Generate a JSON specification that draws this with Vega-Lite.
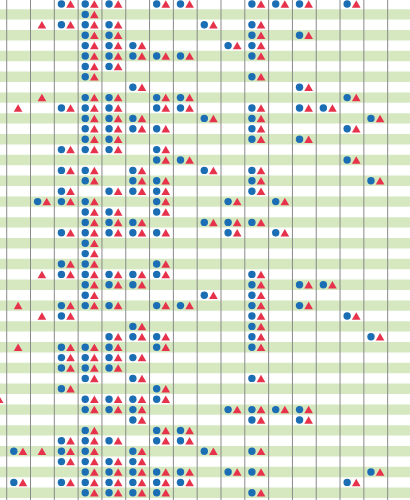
{
  "$schema": "https://vega.github.io/schema/vega-lite/v6.json",
  "width": 410,
  "height": 500,
  "padding": 0,
  "autosize": "none",
  "config": {"view": {"stroke": null}},
  "datasets": {
    "bands": [{"row":1},{"row":3},{"row":5},{"row":7},{"row":9},{"row":11},{"row":13},{"row":15},{"row":17},{"row":19},{"row":21},{"row":23},{"row":25},{"row":27},{"row":29},{"row":31},{"row":33},{"row":35},{"row":37},{"row":39},{"row":41},{"row":43},{"row":45},{"row":47}],
    "lines": [{"col":0.5},{"col":1.5},{"col":2.5},{"col":3.5},{"col":4.5},{"col":5.5},{"col":6.5},{"col":7.5},{"col":8.5},{"col":9.5},{"col":10.5},{"col":11.5},{"col":12.5},{"col":13.5},{"col":14.5},{"col":15.5},{"col":16.5}],
    "cells": [
      {"row":0,"col":3,"kind":"pair"},{"row":0,"col":4,"kind":"pair"},{"row":0,"col":5,"kind":"pair"},{"row":0,"col":7,"kind":"pair"},{"row":0,"col":8,"kind":"pair"},{"row":0,"col":11,"kind":"pair"},{"row":0,"col":12,"kind":"pair"},{"row":0,"col":13,"kind":"pair"},{"row":0,"col":15,"kind":"pair"},
      {"row":1,"col":4,"kind":"pair"},
      {"row":2,"col":2,"kind":"triangle"},{"row":2,"col":3,"kind":"pair"},{"row":2,"col":4,"kind":"pair"},{"row":2,"col":5,"kind":"pair"},{"row":2,"col":9,"kind":"pair"},{"row":2,"col":11,"kind":"pair"},
      {"row":3,"col":4,"kind":"pair"},{"row":3,"col":5,"kind":"pair"},{"row":3,"col":11,"kind":"pair"},{"row":3,"col":13,"kind":"pair"},
      {"row":4,"col":4,"kind":"pair"},{"row":4,"col":5,"kind":"pair"},{"row":4,"col":6,"kind":"pair"},{"row":4,"col":10,"kind":"pair"},{"row":4,"col":11,"kind":"pair"},
      {"row":5,"col":4,"kind":"pair"},{"row":5,"col":5,"kind":"pair"},{"row":5,"col":6,"kind":"pair"},{"row":5,"col":7,"kind":"pair"},{"row":5,"col":8,"kind":"pair"},{"row":5,"col":11,"kind":"pair"},
      {"row":6,"col":4,"kind":"pair"},{"row":6,"col":5,"kind":"pair"},
      {"row":7,"col":4,"kind":"pair"},{"row":7,"col":11,"kind":"pair"},
      {"row":8,"col":6,"kind":"pair"},{"row":8,"col":13,"kind":"pair"},
      {"row":9,"col":2,"kind":"triangle"},{"row":9,"col":4,"kind":"pair"},{"row":9,"col":5,"kind":"pair"},{"row":9,"col":7,"kind":"pair"},{"row":9,"col":8,"kind":"pair"},{"row":9,"col":15,"kind":"pair"},
      {"row":10,"col":1,"kind":"triangle"},{"row":10,"col":3,"kind":"pair"},{"row":10,"col":4,"kind":"pair"},{"row":10,"col":5,"kind":"pair"},{"row":10,"col":7,"kind":"pair"},{"row":10,"col":8,"kind":"pair"},{"row":10,"col":11,"kind":"pair"},{"row":10,"col":13,"kind":"pair"},{"row":10,"col":14,"kind":"pair"},
      {"row":11,"col":4,"kind":"pair"},{"row":11,"col":5,"kind":"pair"},{"row":11,"col":6,"kind":"pair"},{"row":11,"col":9,"kind":"pair"},{"row":11,"col":11,"kind":"pair"},{"row":11,"col":16,"kind":"pair"},
      {"row":12,"col":4,"kind":"pair"},{"row":12,"col":5,"kind":"pair"},{"row":12,"col":6,"kind":"pair"},{"row":12,"col":7,"kind":"pair"},{"row":12,"col":11,"kind":"pair"},{"row":12,"col":15,"kind":"pair"},
      {"row":13,"col":4,"kind":"pair"},{"row":13,"col":5,"kind":"pair"},{"row":13,"col":11,"kind":"pair"},{"row":13,"col":13,"kind":"pair"},
      {"row":14,"col":3,"kind":"pair"},{"row":14,"col":4,"kind":"pair"},{"row":14,"col":5,"kind":"pair"},{"row":14,"col":7,"kind":"pair"},
      {"row":15,"col":7,"kind":"pair"},{"row":15,"col":8,"kind":"pair"},{"row":15,"col":15,"kind":"pair"},
      {"row":16,"col":3,"kind":"pair"},{"row":16,"col":4,"kind":"pair"},{"row":16,"col":6,"kind":"pair"},{"row":16,"col":9,"kind":"pair"},{"row":16,"col":11,"kind":"pair"},
      {"row":17,"col":4,"kind":"pair"},{"row":17,"col":6,"kind":"pair"},{"row":17,"col":7,"kind":"pair"},{"row":17,"col":11,"kind":"pair"},{"row":17,"col":16,"kind":"pair"},
      {"row":18,"col":3,"kind":"pair"},{"row":18,"col":5,"kind":"pair"},{"row":18,"col":6,"kind":"pair"},{"row":18,"col":7,"kind":"pair"},{"row":18,"col":11,"kind":"pair"},
      {"row":19,"col":2,"kind":"pair"},{"row":19,"col":3,"kind":"pair"},{"row":19,"col":4,"kind":"pair"},{"row":19,"col":7,"kind":"pair"},{"row":19,"col":10,"kind":"pair"},{"row":19,"col":12,"kind":"pair"},
      {"row":20,"col":4,"kind":"pair"},{"row":20,"col":5,"kind":"pair"},{"row":20,"col":7,"kind":"pair"},
      {"row":21,"col":4,"kind":"pair"},{"row":21,"col":5,"kind":"pair"},{"row":21,"col":6,"kind":"pair"},{"row":21,"col":9,"kind":"pair"},{"row":21,"col":10,"kind":"pair"},{"row":21,"col":11,"kind":"pair"},
      {"row":22,"col":3,"kind":"pair"},{"row":22,"col":4,"kind":"pair"},{"row":22,"col":5,"kind":"pair"},{"row":22,"col":6,"kind":"pair"},{"row":22,"col":7,"kind":"pair"},{"row":22,"col":10,"kind":"pair"},{"row":22,"col":12,"kind":"pair"},
      {"row":23,"col":4,"kind":"pair"},
      {"row":24,"col":4,"kind":"pair"},
      {"row":25,"col":3,"kind":"pair"},{"row":25,"col":4,"kind":"pair"},{"row":25,"col":7,"kind":"pair"},
      {"row":26,"col":2,"kind":"triangle"},{"row":26,"col":3,"kind":"pair"},{"row":26,"col":4,"kind":"pair"},{"row":26,"col":5,"kind":"pair"},{"row":26,"col":6,"kind":"pair"},{"row":26,"col":7,"kind":"pair"},{"row":26,"col":11,"kind":"pair"},
      {"row":27,"col":4,"kind":"pair"},{"row":27,"col":5,"kind":"pair"},{"row":27,"col":6,"kind":"pair"},{"row":27,"col":11,"kind":"pair"},{"row":27,"col":13,"kind":"pair"},{"row":27,"col":14,"kind":"pair"},
      {"row":28,"col":4,"kind":"pair"},{"row":28,"col":9,"kind":"pair"},{"row":28,"col":11,"kind":"pair"},
      {"row":29,"col":1,"kind":"triangle"},{"row":29,"col":3,"kind":"pair"},{"row":29,"col":4,"kind":"pair"},{"row":29,"col":5,"kind":"pair"},{"row":29,"col":7,"kind":"pair"},{"row":29,"col":8,"kind":"pair"},{"row":29,"col":11,"kind":"pair"},{"row":29,"col":13,"kind":"pair"},
      {"row":30,"col":2,"kind":"triangle"},{"row":30,"col":3,"kind":"pair"},{"row":30,"col":11,"kind":"pair"},{"row":30,"col":15,"kind":"pair"},
      {"row":31,"col":6,"kind":"pair"},{"row":31,"col":11,"kind":"pair"},
      {"row":32,"col":5,"kind":"pair"},{"row":32,"col":6,"kind":"pair"},{"row":32,"col":7,"kind":"pair"},{"row":32,"col":11,"kind":"pair"},{"row":32,"col":16,"kind":"pair"},
      {"row":33,"col":1,"kind":"triangle"},{"row":33,"col":3,"kind":"pair"},{"row":33,"col":4,"kind":"pair"},{"row":33,"col":5,"kind":"pair"},{"row":33,"col":7,"kind":"pair"},{"row":33,"col":11,"kind":"pair"},
      {"row":34,"col":3,"kind":"pair"},{"row":34,"col":4,"kind":"pair"},{"row":34,"col":5,"kind":"pair"},{"row":34,"col":6,"kind":"pair"},
      {"row":35,"col":3,"kind":"pair"},{"row":35,"col":4,"kind":"pair"},{"row":35,"col":5,"kind":"pair"},
      {"row":36,"col":4,"kind":"pair"},{"row":36,"col":6,"kind":"pair"},{"row":36,"col":11,"kind":"pair"},
      {"row":37,"col":3,"kind":"pair"},{"row":37,"col":7,"kind":"pair"},
      {"row":38,"col":0,"kind":"pair"},{"row":38,"col":4,"kind":"pair"},{"row":38,"col":5,"kind":"pair"},{"row":38,"col":6,"kind":"pair"},{"row":38,"col":7,"kind":"pair"},
      {"row":39,"col":4,"kind":"pair"},{"row":39,"col":5,"kind":"pair"},{"row":39,"col":6,"kind":"pair"},{"row":39,"col":10,"kind":"pair"},{"row":39,"col":11,"kind":"pair"},{"row":39,"col":12,"kind":"pair"},{"row":39,"col":13,"kind":"pair"},
      {"row":40,"col":6,"kind":"pair"},{"row":40,"col":11,"kind":"pair"},{"row":40,"col":13,"kind":"pair"},
      {"row":41,"col":4,"kind":"pair"},{"row":41,"col":7,"kind":"pair"},{"row":41,"col":8,"kind":"pair"},
      {"row":42,"col":3,"kind":"pair"},{"row":42,"col":4,"kind":"pair"},{"row":42,"col":5,"kind":"pair"},{"row":42,"col":7,"kind":"pair"},{"row":42,"col":8,"kind":"pair"},
      {"row":43,"col":1,"kind":"pair"},{"row":43,"col":2,"kind":"triangle"},{"row":43,"col":3,"kind":"pair"},{"row":43,"col":4,"kind":"pair"},{"row":43,"col":6,"kind":"pair"},{"row":43,"col":9,"kind":"pair"},{"row":43,"col":11,"kind":"pair"},
      {"row":44,"col":3,"kind":"pair"},{"row":44,"col":4,"kind":"pair"},{"row":44,"col":5,"kind":"pair"},{"row":44,"col":6,"kind":"pair"},
      {"row":45,"col":4,"kind":"pair"},{"row":45,"col":5,"kind":"pair"},{"row":45,"col":6,"kind":"pair"},{"row":45,"col":7,"kind":"pair"},{"row":45,"col":8,"kind":"pair"},{"row":45,"col":10,"kind":"pair"},{"row":45,"col":11,"kind":"pair"},{"row":45,"col":16,"kind":"pair"},
      {"row":46,"col":1,"kind":"pair"},{"row":46,"col":3,"kind":"pair"},{"row":46,"col":4,"kind":"pair"},{"row":46,"col":5,"kind":"pair"},{"row":46,"col":6,"kind":"pair"},{"row":46,"col":7,"kind":"pair"},{"row":46,"col":8,"kind":"pair"},{"row":46,"col":15,"kind":"pair"},
      {"row":47,"col":4,"kind":"pair"},{"row":47,"col":5,"kind":"pair"},{"row":47,"col":6,"kind":"pair"},{"row":47,"col":7,"kind":"pair"},{"row":47,"col":11,"kind":"pair"}
    ]
  },
  "layer": [
    {
      "data": {"name": "bands"},
      "mark": {"type": "rule", "color": "#d5e8bf", "strokeWidth": 10.4},
      "encoding": {
        "y": {"field": "row", "type": "quantitative", "axis": null, "scale": {"domain": [-0.3846, 47.692], "reverse": true, "nice": false, "zero": false}}
      }
    },
    {
      "data": {"name": "lines"},
      "mark": {"type": "rule", "color": "#8a8a8a", "strokeWidth": 1},
      "encoding": {
        "x": {"field": "col", "type": "quantitative", "axis": null, "scale": {"domain": [0.2184, 17.438], "nice": false, "zero": false}}
      }
    },
    {
      "data": {"name": "cells"},
      "transform": [{"filter": "datum.kind == 'pair'"}],
      "mark": {"type": "point", "shape": "circle", "filled": true, "opacity": 1, "size": 55, "color": "#1b6db4", "xOffset": -4.8},
      "encoding": {
        "x": {"field": "col", "type": "quantitative", "axis": null, "scale": {"domain": [0.2184, 17.438], "nice": false, "zero": false}},
        "y": {"field": "row", "type": "quantitative", "axis": null, "scale": {"domain": [-0.3846, 47.692], "reverse": true, "nice": false, "zero": false}}
      }
    },
    {
      "data": {"name": "cells"},
      "transform": [{"filter": "datum.kind == 'pair'"}],
      "mark": {"type": "point", "shape": "triangle-up", "filled": true, "opacity": 1, "size": 75, "color": "#e6334b", "xOffset": 4.3},
      "encoding": {
        "x": {"field": "col", "type": "quantitative", "axis": null, "scale": {"domain": [0.2184, 17.438], "nice": false, "zero": false}},
        "y": {"field": "row", "type": "quantitative", "axis": null, "scale": {"domain": [-0.3846, 47.692], "reverse": true, "nice": false, "zero": false}}
      }
    },
    {
      "data": {"name": "cells"},
      "transform": [{"filter": "datum.kind == 'triangle'"}],
      "mark": {"type": "point", "shape": "triangle-up", "filled": true, "opacity": 1, "size": 75, "color": "#e6334b", "xOffset": -0.5},
      "encoding": {
        "x": {"field": "col", "type": "quantitative", "axis": null, "scale": {"domain": [0.2184, 17.438], "nice": false, "zero": false}},
        "y": {"field": "row", "type": "quantitative", "axis": null, "scale": {"domain": [-0.3846, 47.692], "reverse": true, "nice": false, "zero": false}}
      }
    }
  ]
}
